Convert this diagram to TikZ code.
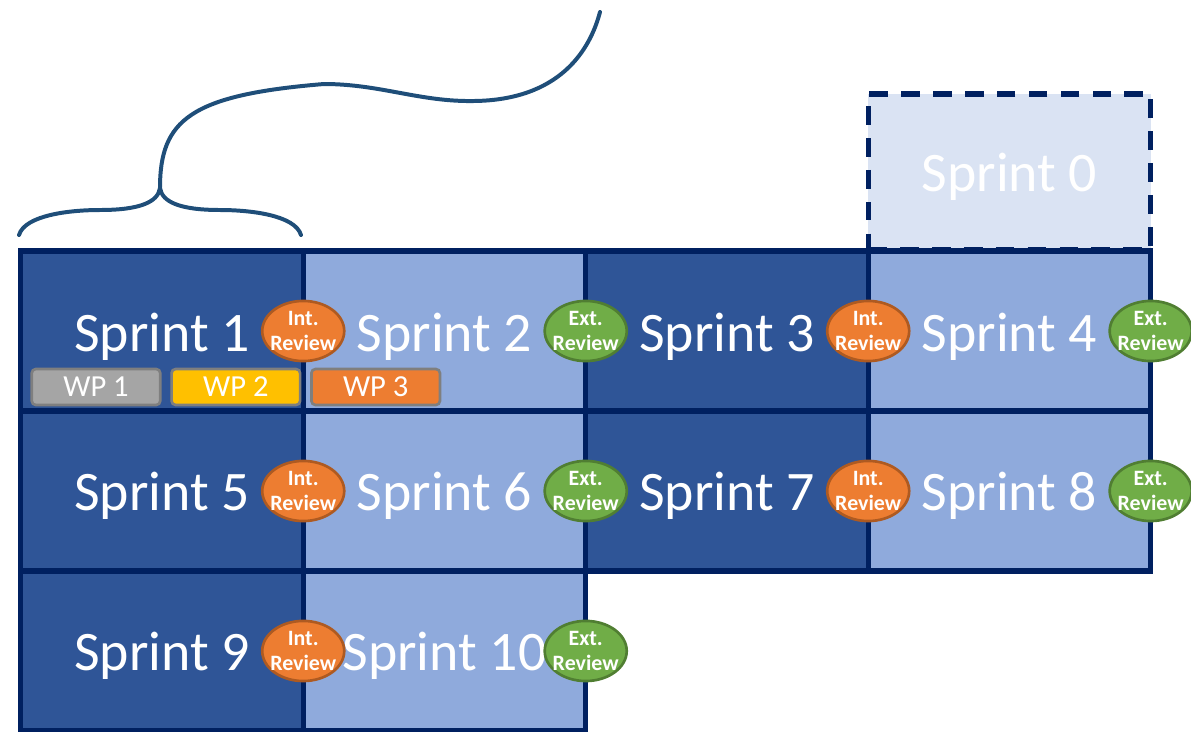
\documentclass[tikz,border=0pt]{standalone}
\usepackage{fontspec}
\setmainfont{Carlito}
\usepackage{tikz}
\usetikzlibrary{shapes,positioning}
\usepackage{xcolor}
\definecolor{sprintdark}{RGB}{47,85,151}
\definecolor{sprintlight}{RGB}{143,170,220}
\definecolor{sprintpale}{RGB}{218,227,243}
\definecolor{sprintline}{RGB}{0,32,96}
\definecolor{revorange}{RGB}{237,125,49}
\definecolor{revorangeline}{RGB}{174,90,33}
\definecolor{revgreen}{RGB}{112,173,71}
\definecolor{revgreenline}{RGB}{80,126,50}
\definecolor{wpgray}{RGB}{165,165,165}
\definecolor{wpyellow}{RGB}{255,192,0}
\definecolor{wpline}{RGB}{127,127,127}
\definecolor{braceblue}{RGB}{31,78,121}
\tikzstyle{sprint} = [rectangle, minimum width=7.474cm, minimum height=4.233cm, inner sep=0pt, outer sep=0pt, draw=sprintline, line width=4pt, text=white, font=\fontsize{42}{50}\selectfont, text height=1.2cm, text depth=0.142cm]
\tikzstyle{review} = [ellipse, minimum width=2.12cm, minimum height=1.59cm, inner sep=-3pt, line width=2pt, text=white, align=center, font=\fontsize{16.5}{18.5}\selectfont\bfseries]
\tikzstyle{intreview} = [review, fill=revorange, draw=revorangeline]
\tikzstyle{extreview} = [review, fill=revgreen, draw=revgreenline]
\tikzstyle{wp} = [rectangle, rounded corners=3pt, minimum width=3.4cm, minimum height=0.95cm, inner sep=0pt, outer sep=0pt, draw=wpline, line width=2pt, text=white, font=\fontsize{23}{26}\selectfont]
\tikzstyle{bracecurve} = [draw=braceblue, line width=3pt, line cap=round]

\begin{document}
\begin{tikzpicture}[x=0.026458cm, y=-0.026458cm]
\useasboundingbox (0,0) rectangle (1191,731);

% Sprint 0 on top
\node (s0) [sprint, fill=sprintpale, dash pattern=on 14pt off 10pt, minimum height=4.13cm] at (1009.5,172) {Sprint 0};

% First row
\node (s1) [sprint, fill=sprintdark] at (162,331) {Sprint 1};
\node (s2) [sprint, right of=s1, node distance=7.474cm, fill=sprintlight] {Sprint 2};
\node (s3) [sprint, right of=s2, node distance=7.474cm, fill=sprintdark] {Sprint 3};
\node (s4) [sprint, right of=s3, node distance=7.474cm, fill=sprintlight] {Sprint 4};

% Second row
\node (s5) [sprint, below of=s1, node distance=4.233cm, fill=sprintdark] {Sprint 5};
\node (s6) [sprint, right of=s5, node distance=7.474cm, fill=sprintlight] {Sprint 6};
\node (s7) [sprint, right of=s6, node distance=7.474cm, fill=sprintdark] {Sprint 7};
\node (s8) [sprint, right of=s7, node distance=7.474cm, fill=sprintlight] {Sprint 8};

% Third row
\node (s9) [sprint, below of=s5, node distance=4.233cm, fill=sprintdark] {Sprint 9};
\node (s10) [sprint, right of=s9, node distance=7.474cm, fill=sprintlight] {Sprint 10};

% Work packages
\node (wp1) [wp, fill=wpgray] at (96,387) {WP 1};
\node (wp2) [wp, right of=wp1, node distance=3.7cm, fill=wpyellow] {WP 2};
\node (wp3) [wp, right of=wp2, node distance=3.7cm, fill=revorange] {WP 3};

% Reviews
\node (r1) [intreview] at (s1.east) {Int.\\Review};
\node (r2) [extreview] at (s2.east) {Ext.\\Review};
\node (r3) [intreview] at (s3.east) {Int.\\Review};
\node (r4) [extreview] at (s4.east) {Ext.\\Review};
\node (r5) [intreview] at (s5.east) {Int.\\Review};
\node (r6) [extreview] at (s6.east) {Ext.\\Review};
\node (r7) [intreview] at (s7.east) {Int.\\Review};
\node (r8) [extreview] at (s8.east) {Ext.\\Review};
\node (r9) [intreview] at (s9.east) {Int.\\Review};
\node (r10) [extreview] at (s10.east) {Ext.\\Review};

% Brace over Sprint 1
\draw [bracecurve] (19,235) .. controls (25,215) and (70,210) .. (100,210) .. controls (140,210) and (158,202) .. (160,188) .. controls (162,202) and (180,210) .. (220,210) .. controls (250,210) and (295,215) .. (301,235);
\draw [bracecurve] (160,188) .. controls (160,120) and (190,95) .. (324,84) .. controls (380,84) and (420,102) .. (474,101) .. controls (560,100) and (590,50) .. (600,12);
\end{tikzpicture}
\end{document}
